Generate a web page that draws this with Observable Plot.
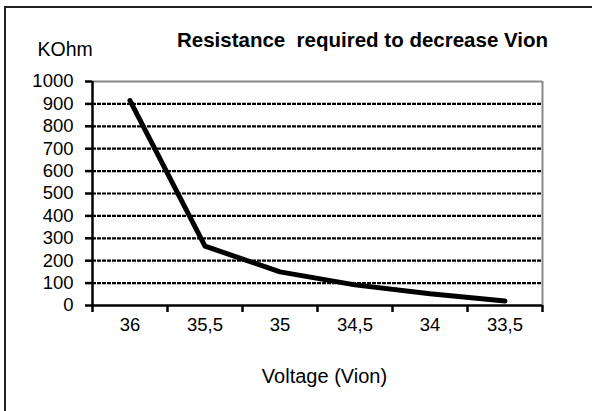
<!DOCTYPE html>
<html><head><meta charset="utf-8">
<script src="https://cdn.jsdelivr.net/npm/d3@7"></script>
<script src="https://cdn.jsdelivr.net/npm/@observablehq/plot@0.6"></script>
<style>
body{margin:0;background:#fff;}
#wrap{position:relative;width:592px;height:411px;overflow:hidden;}
#border{position:absolute;left:4px;top:6px;width:600px;height:420px;border-left:2px solid #222;border-top:2px solid #222;pointer-events:none}
</style></head><body><div id="wrap"><div id="border"></div></div>
<script>
const voltages = ["36", "35,5", "35", "34,5", "34", "33,5"];
const resistance = [915, 265, 150, 92, 52, 20];
const yTicks = [0, 100, 200, 300, 400, 500, 600, 700, 800, 900, 1000];
const title = "Resistance  required to decrease Vion";
const yUnit = "KOhm";
const xTitle = "Voltage (Vion)";

const idx = voltages.map((_, i) => i);
const data = idx.map(i => ({i, v: resistance[i]}));
const bounds = [-0.5, ...idx.map(i => i + 0.5)];
const yMax = yTicks[yTicks.length - 1];
const font = "'Liberation Sans', Arial, sans-serif";

const chart = Plot.plot({
  width: 592,
  height: 411,
  marginLeft: 92,
  marginRight: 50,
  marginTop: 81,
  marginBottom: 106,
  style: {fontFamily: font, fontSize: "18px", background: "transparent", color: "#000"},
  x: {domain: [bounds[0], bounds[bounds.length - 1]]},
  y: {domain: [0, yMax]},
  marks: [
    Plot.ruleY(yTicks.filter(t => t > 0 && t < yMax), {stroke: "#000", strokeWidth: 2.2, strokeDasharray: "4,1"}),
    Plot.ruleY([yMax], {stroke: "#888", strokeWidth: 2}),
    Plot.ruleX([bounds[bounds.length - 1]], {stroke: "#888", strokeWidth: 2}),
    Plot.axisY({ticks: yTicks, tickSize: 7, tickPadding: 12, tickFormat: d => String(d), label: null, fontSize: 18.5, strokeWidth: 2.5, stroke: "#000"}),
    Plot.axisX({ticks: bounds, tickSize: 7, tickFormat: () => "", label: null, strokeWidth: 2.5, stroke: "#000"}),
    Plot.axisX({ticks: idx, tickSize: 0, tickPadding: 12, tickFormat: i => voltages[i], label: null, fontSize: 18.5}),
    Plot.ruleX([bounds[0]], {stroke: "#000", strokeWidth: 2.5}),
    Plot.ruleY([0], {stroke: "#000", strokeWidth: 2.5}),
    Plot.line(data, {x: "i", y: "v", stroke: "#000", strokeWidth: 5, strokeLinejoin: "round", strokeLinecap: "round"}),
    Plot.text([title], {frameAnchor: "top", dx: 45, dy: -41, fontWeight: "bold", fontSize: 20.5, lineAnchor: "middle"}),
    Plot.text([yUnit], {frameAnchor: "top-left", dx: -55, dy: -32, textAnchor: "start", fontSize: 19.5, lineAnchor: "middle"}),
    Plot.text([xTitle], {frameAnchor: "bottom", dx: 7, dy: 71, fontSize: 20, lineAnchor: "middle"})
  ]
});
document.getElementById("wrap").prepend(chart);
chart.style.position = "absolute";
chart.style.left = "0";
chart.style.top = "0";
</script>
</body></html>
